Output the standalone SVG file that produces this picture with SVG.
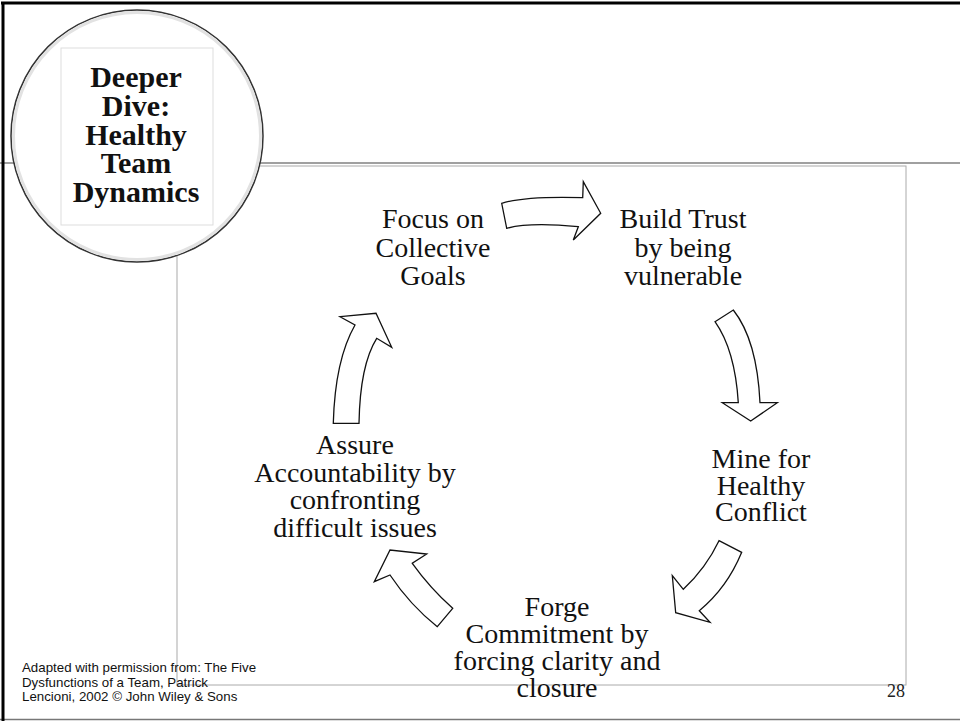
<svg xmlns="http://www.w3.org/2000/svg" width="960" height="721" viewBox="0 0 960 721">
<style>
.lbl{font-family:"Liberation Serif","Times New Roman",serif;font-size:28px;fill:#111;text-anchor:middle}
.ttl{font-family:"Liberation Serif","Times New Roman",serif;font-size:30px;font-weight:bold;fill:#111;text-anchor:middle}
.foot{font-family:"Liberation Sans",Arial,sans-serif;font-size:13.3px;fill:#111}
.arr{fill:#fff;stroke:#111;stroke-width:1.3;stroke-linejoin:miter}
</style>
<rect x="0" y="0" width="960" height="721" fill="#fff"/>
<g id="frame">
<line x1="0" y1="163" x2="960" y2="163" stroke="#808080" stroke-width="1.5"/>
<rect x="177" y="166" width="729" height="519" fill="none" stroke="#aaa" stroke-width="1"/>
<line x1="0" y1="719.5" x2="960" y2="719.5" stroke="#777" stroke-width="1.5"/>
<line x1="1" y1="3" x2="960" y2="3" stroke="#000" stroke-width="3"/>
<line x1="3" y1="2" x2="3" y2="721" stroke="#000" stroke-width="3"/>
</g>
<g id="title">
<circle cx="137" cy="136" r="126" fill="#fff" stroke="#333" stroke-width="1.5"/>
<circle cx="137" cy="136" r="123.5" fill="none" stroke="#e2e2e2" stroke-width="3"/>
<rect x="61" y="48" width="152" height="177" fill="#fff" stroke="#ddd" stroke-width="1"/>
<text class="ttl" x="136" y="87">Deeper</text>
<text class="ttl" x="136" y="116">Dive:</text>
<text class="ttl" x="136" y="145">Healthy</text>
<text class="ttl" x="136" y="173">Team</text>
<text class="ttl" x="136" y="202">Dynamics</text>
</g>
<g id="connectors">
<path class="arr" d="M501.7,203.3 Q525,196 582.7,197.7 L583.3,181.7 L600.7,213.3 L573.3,240 L578.3,226.7 Q530,222 506.7,228.3 Z"/>
<path class="arr" d="M715,321.7 L733.3,310 Q757,340 760,402.7 L777.3,402.7 L750.7,421 L722.3,402.7 L738.3,402.7 Q735,350 715,321.7 Z"/>
<path class="arr" d="M719,540.7 L741.7,552.3 Q727,588 699.3,610.7 L710,622.3 L675.7,612.7 L672.3,575.7 L683.3,589.3 Q706,568 719,540.7 Z"/>
<path class="arr" d="M437.3,626.7 L452.7,608.3 Q430,588 412.3,563.3 L426.7,554 L390,550 L374.3,581.7 L390,575 Q410,605 437.3,626.7 Z"/>
<path class="arr" d="M333.3,423.3 L359,423.3 Q360,365 376.7,338.3 L391.7,347.3 L376,313.3 L340,316.7 L355,325 Q335,360 333.3,423.3 Z"/>
</g>
<g id="focus">
<text class="lbl" x="433" y="228">Focus on</text>
<text class="lbl" x="433" y="256.5">Collective</text>
<text class="lbl" x="433" y="284.5">Goals</text>
</g>
<g id="trust">
<text class="lbl" x="683" y="228">Build Trust</text>
<text class="lbl" x="683" y="256.5">by being</text>
<text class="lbl" x="683" y="284.5">vulnerable</text>
</g>
<g id="conflict">
<text class="lbl" x="761" y="468">Mine for</text>
<text class="lbl" x="761" y="494.5">Healthy</text>
<text class="lbl" x="761" y="521">Conflict</text>
</g>
<g id="commitment">
<text class="lbl" x="557" y="616">Forge</text>
<text class="lbl" x="557" y="643">Commitment by</text>
<text class="lbl" x="557" y="670">forcing clarity and</text>
<text class="lbl" x="557" y="697">closure</text>
</g>
<g id="accountability">
<text class="lbl" x="355" y="454">Assure</text>
<text class="lbl" x="355" y="481.5">Accountability by</text>
<text class="lbl" x="355" y="509">confronting</text>
<text class="lbl" x="355" y="536.5">difficult issues</text>
</g>
<g id="footer">
<text class="foot" x="22" y="672">Adapted with permission from: The Five</text>
<text class="foot" x="22" y="686.5">Dysfunctions of a Team, Patrick</text>
<text class="foot" x="22" y="701">Lencioni, 2002 © John Wiley &amp; Sons</text>
<text x="905" y="697" font-family="Liberation Serif, serif" font-size="18" fill="#222" text-anchor="end">28</text>
</g>
</svg>
